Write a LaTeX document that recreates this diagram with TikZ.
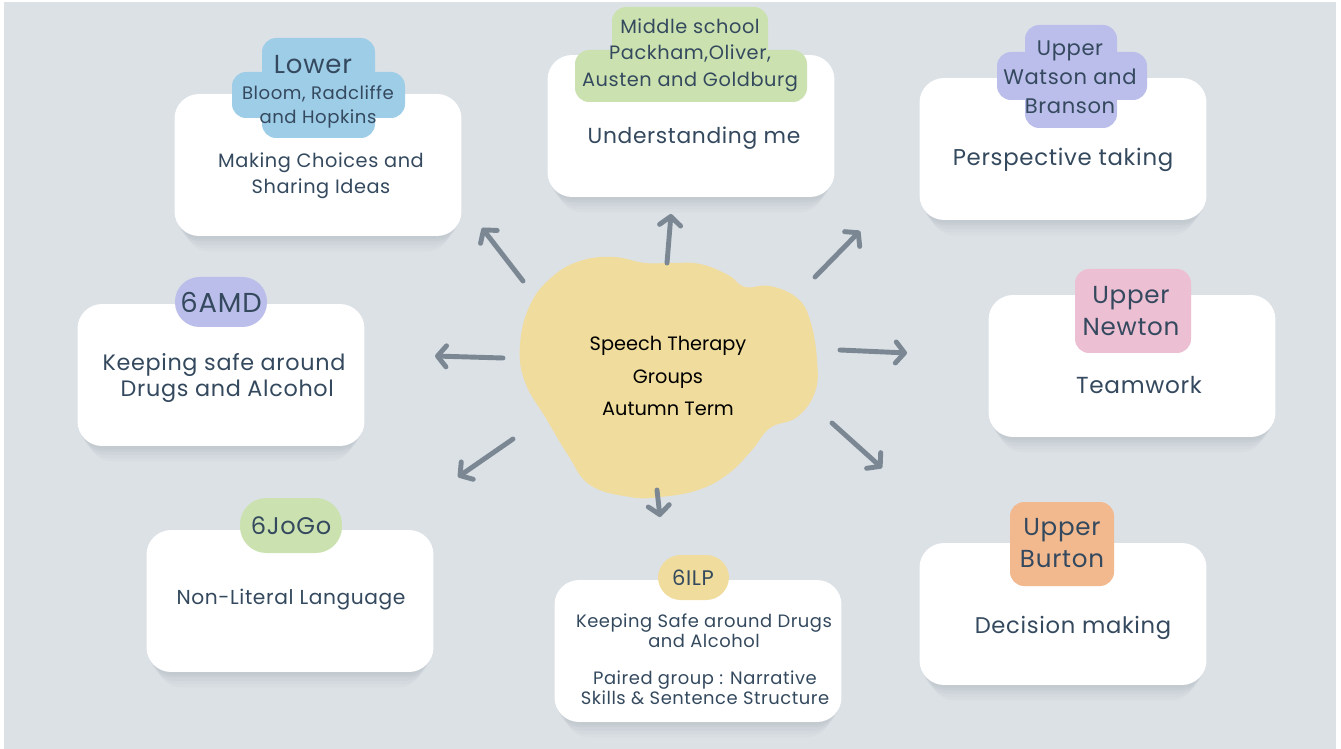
\documentclass[tikz,border=0pt]{standalone}
\usepackage{fontspec}
\usepackage{tikz}
\usetikzlibrary{arrows.meta,shadows}
\newfontfamily\boxfont{Poppins}[LetterSpace=3.0]
\newfontfamily\hubfont{Poppins}

\definecolor{paper}{HTML}{DCE1E6}
\definecolor{ink}{HTML}{34495E}
\definecolor{arrowgrey}{HTML}{7B8894}
\definecolor{blobyellow}{HTML}{F0DC9C}
\definecolor{tagblue}{HTML}{9ECDE8}
\definecolor{taggreen}{HTML}{CBE2B0}
\definecolor{tagpurple}{HTML}{BBBEEB}
\definecolor{tagpink}{HTML}{ECBFD3}
\definecolor{tagorange}{HTML}{F2B98F}
\definecolor{shade}{HTML}{8E99A5}

\tikzset{
  mybox/.style={fill=white,rounded corners=14pt,minimum width=5.74cm,minimum height=2.84cm,
    general shadow={fill=shade,opacity=0.05,shadow yshift=-13pt,shadow scale=0.92},
    general shadow={fill=shade,opacity=0.06,shadow yshift=-10pt,shadow scale=0.94},
    general shadow={fill=shade,opacity=0.07,shadow yshift=-7pt,shadow scale=0.96},
    general shadow={fill=shade,opacity=0.08,shadow yshift=-4pt,shadow scale=0.98},
    general shadow={fill=shade,opacity=0.08,shadow yshift=-2pt,shadow scale=0.99}},
  mytag/.style={rounded corners=8pt},
  mytext/.style={text=ink,align=center,font=\boxfont\fontsize{11}{14.6}\selectfont,inner sep=0pt},
  mysmall/.style={mytext,font=\boxfont\fontsize{10.2}{11.4}\selectfont},
  mylabel/.style={mytext,font=\boxfont\fontsize{14}{18.7}\selectfont},
  myarrow/.style={draw=arrowgrey,line width=2.8pt,line cap=round,
    -{Straight Barb[length=5pt,width=12pt,round]}}
}

\begin{document}
\begin{tikzpicture}[x=0.02cm,y=-0.02cm]
  \useasboundingbox (0,0) rectangle (1341,749);
  \fill[white] (0,0) rectangle (1341,749);
  \fill[paper] (4,2) rectangle (1336,749);

  % white cards
  \node[mybox] (lower) at (318,165) {};
  \node[mybox] (middle) at (691,126) {};
  \node[mybox] (watson) at (1063,149) {};
  \node[mybox] (amd) at (221,375) {};
  \node[mybox] (newton) at (1132,366) {};
  \node[mybox] (jogo) at (290,601) {};
  \node[mybox] (ilp) at (698,651) {};
  \node[mybox] (burton) at (1063,614) {};

  % coloured tags on top of the cards
  \fill[tagblue,mytag] (262,38) rectangle (375,138);
  \fill[tagblue,mytag] (232,72) rectangle (405,118);
  \fill[taggreen,mytag] (612,7) rectangle (768,60);
  \fill[taggreen,mytag] (575,50) rectangle (807,102);
  \fill[tagpurple,mytag] (1025,25) rectangle (1117,128);
  \fill[tagpurple,mytag] (997,52) rectangle (1147,100);
  \fill[tagpink,mytag] (1075,269) rectangle (1191,353);
  \fill[tagorange,mytag] (1010,502) rectangle (1114,586);
  \fill[tagpurple,rounded corners=14pt] (175,277) rectangle (267,327);
  \fill[taggreen,rounded corners=15pt] (240,498) rectangle (342,553);
  \fill[blobyellow,rounded corners=13pt] (658,555) rectangle (729,600);

  \node[mylabel,font=\boxfont\fontsize{14.8}{16}\selectfont] (lowertag) at (313,65) {Lower};
  \node[mysmall,font=\boxfont\fontsize{10.3}{13.6}\selectfont] (lowernames) at (318,107) {Bloom, Radcliffe\\and Hopkins};
  \node[mytext,font=\boxfont\fontsize{11}{15}\selectfont] (middletag) at (690,55) {Middle school\\Packham,Oliver,\\Austen and Goldburg};
  \node[mytext,font=\boxfont\fontsize{12}{16.4}\selectfont] (watsontag) at (1070,77) {Upper\\Watson and\\Branson};
  \node[mylabel] (newtontag) at (1131,311) {Upper\\Newton};
  \node[mylabel] (burtontag) at (1062,543) {Upper\\Burton};
  \node[mylabel,font=\boxfont\fontsize{15.6}{18}\selectfont] (amdtag) at (221,302) {6AMD};
  \node[mylabel,font=\boxfont\fontsize{13.7}{18}\selectfont] (jogotag) at (291,526) {6JoGo};
  \node[mysmall,font=\boxfont\fontsize{12}{14}\selectfont] (ilptag) at (693,578) {6ILP};

  % card texts
  \node[mytext] (lowertxt) at (321,176) {Making Choices and\\Sharing Ideas};
  \node[mytext,font=\boxfont\fontsize{12.4}{15}\selectfont] (middletxt) at (694,138) {Understanding me};
  \node[mytext,font=\boxfont\fontsize{13}{15}\selectfont] (watsontxt) at (1063,160) {Perspective taking};
  \node[mytext,font=\boxfont\fontsize{12.7}{14.6}\selectfont] (amdtxt) at (224,378) {Keeping safe around\\\ Drugs and Alcohol};
  \node[mytext,font=\boxfont\fontsize{13.2}{15}\selectfont] (newtontxt) at (1139,385) {Teamwork};
  \node[mytext,font=\boxfont\fontsize{11.5}{15}\selectfont] (jogotxt) at (291,600) {Non-Literal Language};
  \node[mytext,font=\boxfont\fontsize{12.9}{15}\selectfont] (burtontxt) at (1073,628) {Decision making};
  \node[mysmall] (ilptxt) at (704,631) {Keeping Safe around Drugs\\and Alcohol};
  \node[mysmall] (ilppair) at (705,688) {Paired group : Narrative\\Skills \& Sentence Structure};

  % the yellow blob in the middle
  \fill[blobyellow] plot[smooth cycle,tension=0.7] coordinates {
    (520,345) (530,305) (552,277) (580,261) (613,257) (645,263) (670,263)
    (700,264) (728,275) (745,287) (770,286) (797,298) (810,320) (817,360)
    (815,392) (797,417) (770,428) (752,450) (728,474) (698,490) (660,497)
    (630,497) (590,485) (568,455) (547,420) (525,382)};
  \node[align=center,font=\hubfont\fontsize{11}{18.6}\selectfont] (hub) at (668,376)
    {Speech Therapy\\Groups\\Autumn Term};

  % arrows out of the blob
  \coordinate (s1) at (523,281); \coordinate (e1) at (482,228);
  \coordinate (s2) at (667,263); \coordinate (e2) at (671,214);
  \coordinate (s3) at (815,277); \coordinate (e3) at (860,231);
  \coordinate (s4) at (840,350); \coordinate (e4) at (907,353);
  \coordinate (s5) at (832,423); \coordinate (e5) at (882,468);
  \coordinate (s6) at (657,490); \coordinate (e6) at (660,517);
  \coordinate (s7) at (513,439); \coordinate (e7) at (458,477);
  \coordinate (s8) at (503,358); \coordinate (e8) at (435,356);
  \draw[myarrow] (s1) -- (e1);
  \draw[myarrow] (s2) -- (e2);
  \draw[myarrow] (s3) -- (e3);
  \draw[myarrow] (s4) -- (e4);
  \draw[myarrow] (s5) -- (e5);
  \draw[myarrow] (s6) -- (e6);
  \draw[myarrow] (s7) -- (e7);
  \draw[myarrow] (s8) -- (e8);
\end{tikzpicture}
\end{document}
